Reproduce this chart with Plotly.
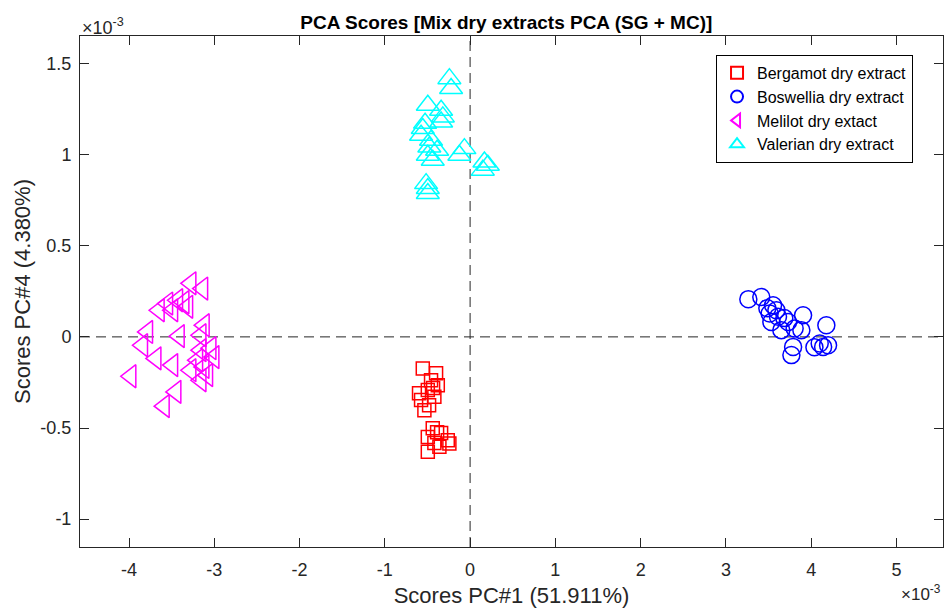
import plotly.graph_objects as go

# ---- data (scores, x10^-3) ----
berg_x = [-0.555, -0.399, -0.458, -0.496, -0.575, -0.419, -0.536, -0.379, -0.599, -0.481, -0.434,
          -0.438, -0.340, -0.496, -0.262, -0.419, -0.496, -0.360, -0.243, -0.387]
berg_y = [-0.173, -0.199, -0.238, -0.292, -0.347, -0.329, -0.402, -0.265, -0.309, -0.375, -0.281,
          -0.502, -0.528, -0.549, -0.567, -0.583, -0.631, -0.603, -0.585, -0.523]

bos_x = [3.263, 3.415, 3.553, 3.592, 3.513, 3.611, 3.533, 3.729, 3.905, 3.806, 3.885,
         3.788, 3.768, 4.178, 4.100, 4.198, 4.140, 3.650, 4.038, 3.486, 3.685]
bos_y = [0.207, 0.219, 0.174, 0.146, 0.128, 0.110, 0.082, 0.082, 0.119, 0.046, 0.037,
         -0.055, -0.100, 0.064, -0.036, -0.046, -0.055, 0.037, -0.057, 0.157, 0.103]

mel_x = [-3.275, -3.137, -3.647, -3.548, -3.431, -3.357, -3.313, -3.489, -3.783, -3.412, -3.119,
         -3.157, -3.842, -3.685, -3.489, -3.979, -3.451, -3.588, -3.157, -3.040, -3.005, -3.196,
         -3.122, -3.275, -3.079, -3.157]
mel_y = [0.294, 0.265, 0.146, 0.183, 0.201, 0.190, 0.165, 0.146, 0.027, 0.004, 0.064,
         0.009, -0.046, -0.118, -0.155, -0.216, -0.302, -0.380, -0.073, -0.062, -0.111, -0.128,
         -0.165, -0.183, -0.210, -0.238]

val_x = [-0.243, -0.223, -0.496, -0.340, -0.320, -0.340, -0.555, -0.575, -0.458, -0.478, -0.496,
         -0.438, -0.067, -0.126, 0.168, 0.208, 0.149, -0.516, -0.496, -0.496, -0.387, -0.528]
val_y = [1.417, 1.363, 1.271, 1.244, 1.207, 1.179, 1.143, 1.106, 1.079, 1.042, 0.997,
         0.969, 1.033, 0.997, 0.960, 0.942, 0.915, 0.841, 0.814, 0.787, 1.024, 1.172]

x_ticks = [-4, -3, -2, -1, 0, 1, 2, 3, 4, 5]
x_tick_text = ["-4", "-3", "-2", "-1", "0", "1", "2", "3", "4", "5"]
y_ticks = [-1, -0.5, 0, 0.5, 1, 1.5]
y_tick_text = ["-1", "-0.5", "0", "0.5", "1", "1.5"]

FONT = "Liberation Sans, Arial, Helvetica, sans-serif"
AX = "#262626"

fig = go.Figure()


def add(name, x, y, symbol, color, size):
    fig.add_trace(go.Scatter(
        x=x, y=y, mode="markers", name=name,
        marker=dict(symbol=symbol, size=size, color=color,
                    line=dict(color=color, width=1.5)),
    ))


add("Bergamot dry extract", berg_x, berg_y, "square-open", "#FF0000", 13)
add("Boswellia dry extract", bos_x, bos_y, "circle-open", "#0000FF", 17)
add("Melilot dry extact", mel_x, mel_y, "triangle-left-open", "#FF00FF", 20)
add("Valerian dry extract", val_x, val_y, "triangle-up-open", "#00FFFF", 20)

# zero lines
fig.add_shape(type="line", xref="x", yref="paper", x0=0, x1=0, y0=0, y1=1,
              line=dict(color="#262626", width=1, dash="10px,6px"), layer="below")
fig.add_shape(type="line", xref="paper", yref="y", x0=0, x1=1, y0=0, y1=0,
              line=dict(color="#262626", width=1, dash="10px,6px"), layer="below")

fig.update_layout(
    width=945, height=608,
    margin=dict(l=80, r=2, t=36, b=61),
    paper_bgcolor="white", plot_bgcolor="white",
    font=dict(family=FONT, color=AX),
    title=dict(text="<b>PCA Scores [Mix dry extracts PCA (SG + MC)]</b>",
               x=0.494, xref="paper", xanchor="center",
               y=1 - 22 / 608, yref="container", yanchor="middle",
               font=dict(family=FONT, size=19, color="black")),
    showlegend=True,
    legend=dict(x=0.737, y=0.963, xanchor="left", yanchor="top",
                bgcolor="white", bordercolor="black", borderwidth=1,
                font=dict(family=FONT, size=16, color="black"),
                itemsizing="constant"),
    xaxis=dict(range=[-4.575, 5.546], tickvals=x_ticks, ticktext=x_tick_text,
               ticks="inside", ticklen=9, ticklabelstandoff=6,
               tickcolor=AX, showline=True, linecolor=AX, linewidth=1, mirror="ticks",
               showgrid=False, zeroline=False,
               tickfont=dict(family=FONT, size=18, color=AX),
               title=dict(text="Scores PC#1 (51.911%)", font=dict(family=FONT, size=22, color=AX),
                          standoff=10)),
    yaxis=dict(range=[-1.153, 1.651], tickvals=y_ticks, ticktext=y_tick_text, ticks="inside",
               ticklen=9, ticklabelstandoff=4,
               tickcolor=AX, showline=True, linecolor=AX, linewidth=1, mirror="ticks",
               showgrid=False, zeroline=False,
               tickfont=dict(family=FONT, size=18, color=AX),
               title=dict(text="Scores PC#4 (4.380%)", font=dict(family=FONT, size=22, color=AX),
                          standoff=3)),
)

fig.add_annotation(text="×10<sup>-3</sup>", xref="paper", yref="paper", x=0, y=1,
                   xanchor="left", yanchor="bottom", showarrow=False, yshift=-4,
                   font=dict(family=FONT, size=18, color=AX))
fig.add_annotation(text="×10<sup>-3</sup>", xref="paper", yref="paper", x=1, y=0,
                   xanchor="right", yanchor="bottom", showarrow=False, yshift=-59, xshift=0,
                   font=dict(family=FONT, size=17, color=AX))

fig.write_html("out.html")
